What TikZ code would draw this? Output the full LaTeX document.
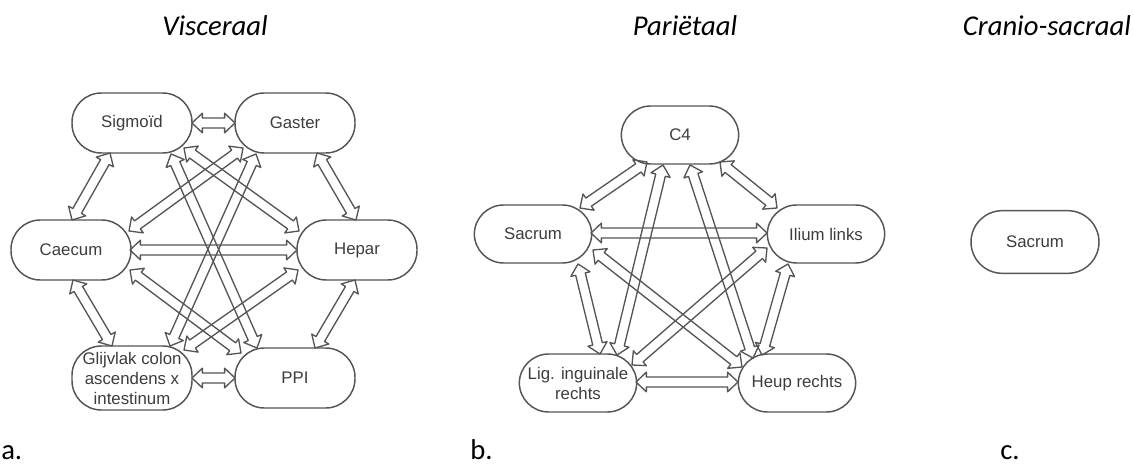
\documentclass[tikz,border=0pt]{standalone}
\usepackage{fontspec}
\setmainfont{Liberation Sans}
\newfontfamily\titlefont{Carlito}
\usetikzlibrary{calc}

\definecolor{edgegray}{HTML}{555555}
\definecolor{textgray}{HTML}{3C3C3C}

\tikzset{
  organ/.style={draw=edgegray, line width=1.1pt, rectangle, rounded corners=22pt,
    minimum width=90pt, minimum height=45pt, inner sep=2pt, align=center,
    text=textgray, font=\fontsize{12.6}{15}\selectfont},
  heading/.style={anchor=base, font=\titlefont\itshape\fontsize{21.5}{24}\selectfont},
  panel/.style={anchor=base west, inner sep=0pt, font=\titlefont\fontsize{21.5}{24}\selectfont},
  link/.style={draw=edgegray, line width=1pt, line join=round},
}

% hollow double-headed block arrow between two points
\newcommand{\dlink}[2]{%
  \coordinate (pA) at (#1);
  \coordinate (pB) at (#2);
  \coordinate (qA) at ($(pA)!7.8pt!(pB)$);
  \coordinate (qB) at ($(pB)!7.8pt!(pA)$);
  \draw[link] (pA) -- ($(qA)!7.4pt!90:(pB)$) -- ($(qA)!3.7pt!90:(pB)$)
    -- ($(qB)!3.7pt!-90:(pA)$) -- ($(qB)!7.4pt!-90:(pA)$) -- (pB)
    -- ($(qB)!7.4pt!90:(pA)$) -- ($(qB)!3.7pt!90:(pA)$)
    -- ($(qA)!3.7pt!-90:(pB)$) -- ($(qA)!7.4pt!-90:(pB)$) -- cycle;
}

\begin{document}
\begin{tikzpicture}[x=0.75pt, y=-0.75pt]
\useasboundingbox (0,0) rectangle (1133,467);

% headings and panel letters
\node[heading] (tv) at (215,36) {Visceraal};
\node[heading] (tp) at (685,36) {Pariëtaal};
\node[heading] (tc) at (1047,36) {Cranio-sacraal};
\node[panel] (la) at (1,459) {a.};
\node[panel] (lb) at (470,459) {b.};
\node[panel] (lc) at (1000,459) {c.};

% visceral chain
\node[organ] (sig) at (132,123) {Sigmoïd};
\node[organ] (gas) at (295,123) {Gaster};
\node[organ] (cae) at (71,250) {Caecum};
\node[organ] (hep) at (357,250) {Hepar};
\node[organ, minimum height=48pt] (gli) at (132,378) {Glijvlak colon\\ascendens x\\intestinum};
\node[organ] (ppi) at (295,378) {PPI};

\dlink{$(sig.center)+(60,0)$}{$(gas.center)+(-60,0)$}
\dlink{$(sig.center)+(-22,30)$}{$(cae.center)+(1,-30)$}
\dlink{$(gas.center)+(22,30)$}{$(hep.center)+(-1,-30)$}
\dlink{$(cae.center)+(59,0)$}{$(hep.center)+(-60,0)$}
\dlink{$(cae.center)+(2,30)$}{$(gli.center)+(-20,-32)$}
\dlink{$(hep.center)+(-2,30)$}{$(ppi.center)+(20,-30)$}
\dlink{$(gli.center)+(60,0)$}{$(ppi.center)+(-60,0)$}
\dlink{$(sig.center)+(52,25)$}{$(hep.center)+(-58,-19)$}
\dlink{$(gas.center)+(-52,25)$}{$(cae.center)+(58,-19)$}
\dlink{$(sig.center)+(39,31)$}{$(ppi.center)+(-38,-30)$}
\dlink{$(gas.center)+(-39,31)$}{$(gli.center)+(38,-32)$}
\dlink{$(cae.center)+(59,20)$}{$(ppi.center)+(-54,-25)$}
\dlink{$(hep.center)+(-59,20)$}{$(gli.center)+(52,-28)$}

% parietal chain
\node[organ, minimum width=88pt, minimum height=43.5pt] (c4) at (680,135) {C4};
\node[organ, minimum width=88pt, minimum height=43.5pt] (sac) at (533,234) {Sacrum};
\node[organ, minimum width=88pt, minimum height=43.5pt] (il) at (826,234) {Ilium links};
\node[organ, minimum width=88pt, minimum height=43.5pt] (lig) at (578,383) {Lig. inguinale\\rechts};
\node[organ, minimum width=88pt, minimum height=43.5pt] (heu) at (797,383) {Heup rechts};

\dlink{$(c4.center)+(-33,27)$}{$(sac.center)+(47,-26)$}
\dlink{$(c4.center)+(40,27)$}{$(il.center)+(-49,-26)$}
\dlink{$(c4.center)+(-17,30)$}{$(lig.center)+(39,-28)$}
\dlink{$(c4.center)+(10,30)$}{$(heu.center)+(-44,-25)$}
\dlink{$(sac.center)+(58,-1)$}{$(il.center)+(-59,-1)$}
\dlink{$(sac.center)+(60,16)$}{$(heu.center)+(-55,-16)$}
\dlink{$(il.center)+(-59,14)$}{$(lig.center)+(54,-18)$}
\dlink{$(sac.center)+(45,30)$}{$(lig.center)+(22,-29)$}
\dlink{$(il.center)+(-38,30)$}{$(heu.center)+(-35,-28)$}
\dlink{$(lig.center)+(58,-1)$}{$(heu.center)+(-59,-1)$}

% craniosacral
\node[organ, minimum width=96pt, minimum height=47pt, rounded corners=23.5pt] (sac2) at (1035,242) {Sacrum};
\end{tikzpicture}
\end{document}
